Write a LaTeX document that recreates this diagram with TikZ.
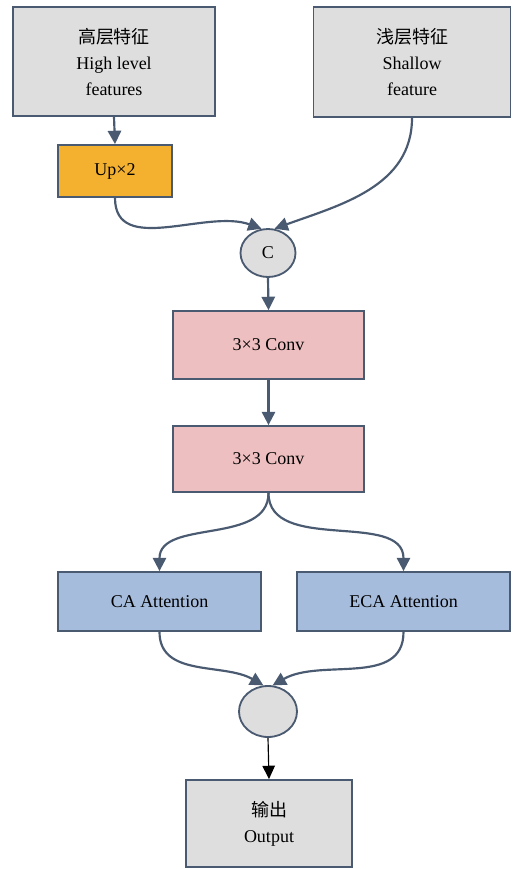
\documentclass[tikz,border=0pt]{standalone}
\usepackage{fontspec}
\setmainfont{Liberation Serif}
\newfontfamily\cjk{Noto Sans CJK SC}
\usetikzlibrary{arrows.meta,shapes.geometric}
\definecolor{box_gray}{HTML}{DFDEDF}
\definecolor{up_orange}{HTML}{F4B130}
\definecolor{conv_pink}{HTML}{EEBFC0}
\definecolor{att_blue}{HTML}{A6BCDC}
\definecolor{edge_blue}{HTML}{4A5A71}
\newlength\px
\setlength\px{0.6pt}

\begin{document}
\begin{tikzpicture}[x=0.6pt, y=-0.6pt,
    block/.style={rectangle, draw=edge_blue, line width=1.1pt, inner sep=0pt,
      align=center, font=\fontsize{10.8}{15.6}\selectfont},
    joint/.style={ellipse, draw=edge_blue, line width=1.1pt, fill=box_gray,
      inner sep=0pt, font=\fontsize{10.8}{12}\selectfont},
    flow/.style={draw=edge_blue, line width=1.3pt,
      -{Triangle[length=8pt,width=8pt]}}]

      \useasboundingbox (0,0) rectangle (514,869);

      % Draw the input boxes
      \node[block, fill=box_gray, minimum width=202\px, minimum height=109\px]
        (high) at (114,61.5) {{\cjk 高层特征}\\High level\\features};
      \node[block, fill=box_gray, minimum width=197\px, minimum height=110\px]
        (shallow) at (412,62) {{\cjk 浅层特征}\\Shallow\\feature};
      \node[block, fill=up_orange, minimum width=114\px, minimum height=52\px]
        (up) at (115,171) {Up×2};

      % Draw the concat node
      \node[joint, minimum width=55\px, minimum height=48\px] (cat) at (268,253) {C};

      % Draw the conv blocks
      \node[block, fill=conv_pink, minimum width=191\px, minimum height=68\px]
        (conv1) at (268.5,345) {3×3 Conv};
      \node[block, fill=conv_pink, minimum width=191\px, minimum height=66\px]
        (conv2) at (268.5,459) {3×3 Conv};

      % Draw the attention blocks
      \node[block, fill=att_blue, minimum width=203\px, minimum height=59\px]
        (ca) at (159.5,601.5) {CA Attention};
      \node[block, fill=att_blue, minimum width=213\px, minimum height=59\px]
        (eca) at (403.5,601.5) {ECA Attention};

      % Draw the merge node and the output
      \node[joint, minimum width=58\px, minimum height=51\px] (merge) at (268,711.5) {};
      \node[block, fill=box_gray, minimum width=166\px, minimum height=87\px]
        (out) at (269,823.5) {{\cjk 输出}\\Output};

      % Draw the connectors
      \draw[flow] (high.south) -- (up.north);
      \draw[flow] (up.south) to[out=-90, in=160] (cat.105);
      \draw[flow] (shallow.south) to[out=-90, in=20] (cat.75);
      \draw[flow] (cat.south) -- (conv1.north);
      \draw[flow] (conv1.south) -- (conv2.north);
      \draw[flow] (conv2.south) to[out=-90, in=90] (ca.north);
      \draw[flow] (conv2.south) to[out=-90, in=90] (eca.north);
      \draw[flow] (ca.south) to[out=-90, in=150] (merge.100);
      \draw[flow] (eca.south) to[out=-90, in=30] (merge.80);
      \draw[line width=0.7pt, -{Triangle[length=8pt,width=7.5pt]}] (merge.south) -- (out.north);

  \end{tikzpicture}
\end{document}
